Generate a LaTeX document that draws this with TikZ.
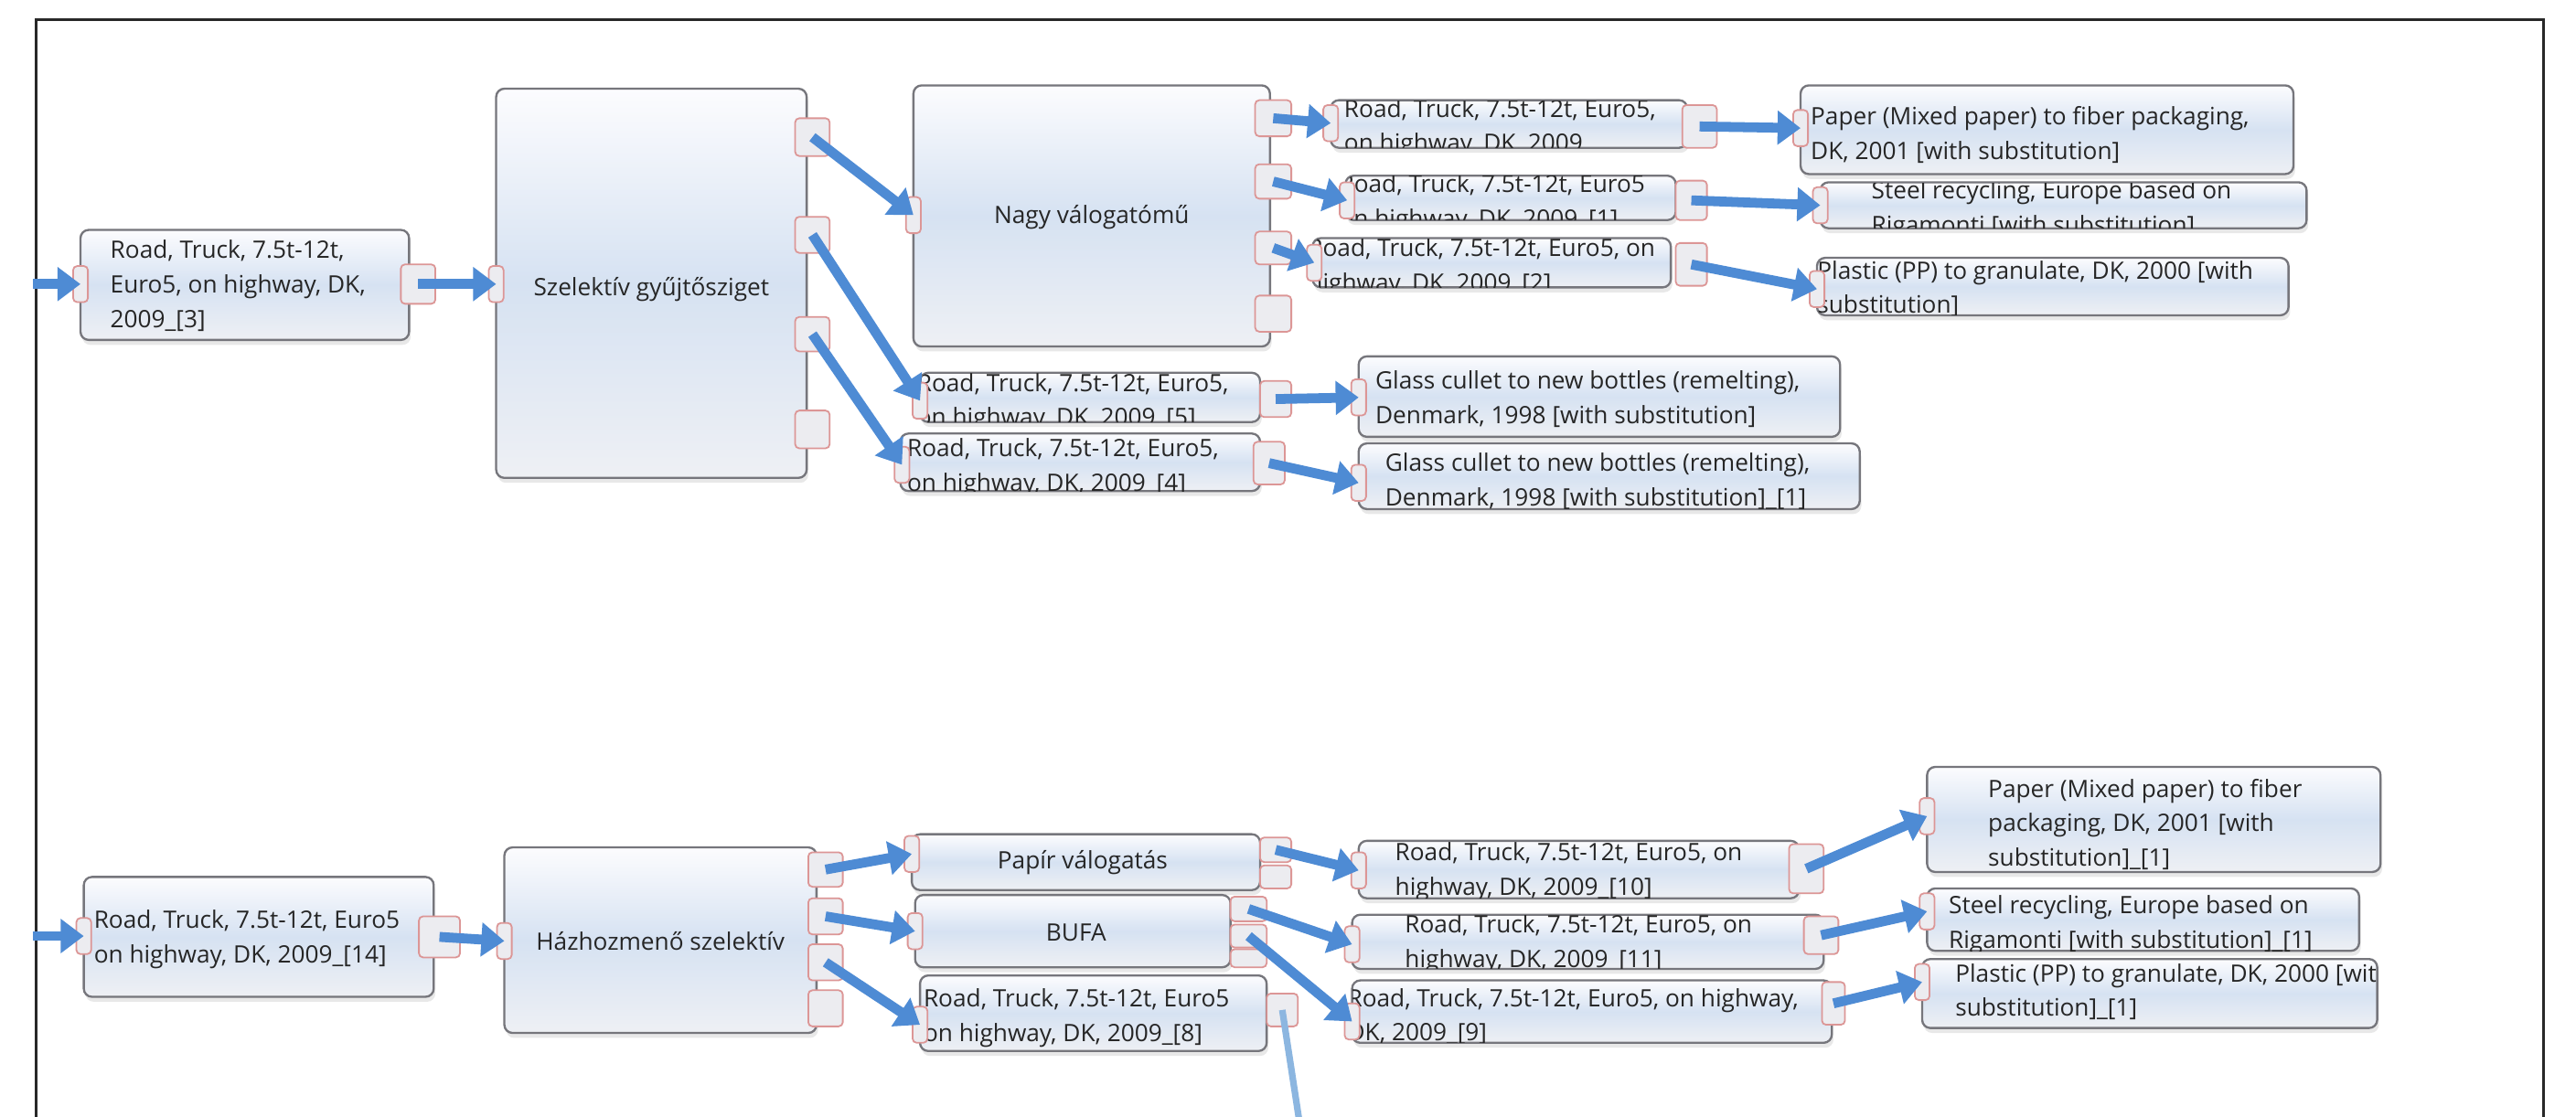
\documentclass[tikz,border=0pt]{standalone}
\usepackage{fontspec}
\setmainfont{Open Sans}
\usetikzlibrary{arrows.meta,shadows}
\definecolor{arrowblue}{RGB}{78,139,212}
\definecolor{arrowlight}{RGB}{140,182,224}
\definecolor{boxborder}{RGB}{118,118,124}
\definecolor{boxtop}{RGB}{252,252,254}
\definecolor{boxmid}{RGB}{214,226,242}
\definecolor{boxbot}{RGB}{238,240,244}
\definecolor{portborder}{RGB}{220,150,150}
\definecolor{portfill}{RGB}{236,236,240}
\definecolor{txtcol}{RGB}{38,38,38}
\definecolor{framecol}{RGB}{40,40,40}
\tikzset{
  boxst/.style={draw=boxborder, line width=1.3pt, rounded corners=5pt,
    top color=boxtop, bottom color=boxbot, middle color=boxmid,
    drop shadow={shadow xshift=1pt, shadow yshift=-3pt, opacity=0.18},
    inner sep=0pt, outer sep=0pt},
  portst/.style={draw=portborder, fill=portfill, line width=1pt,
    rounded corners=2.5pt, inner sep=0pt, outer sep=0pt},
  txt/.style={font=\fontsize{14.6}{21}\selectfont, text=txtcol, align=left, inner sep=0pt},
  arr/.style={draw=arrowblue, line width=6pt, -{Triangle[width=20pt,length=14pt]}},
  arrlight/.style={draw=arrowlight, line width=4pt},
  framest/.style={draw=framecol, line width=1.6pt}
}
% box with left-aligned text clipped to the box
\newcommand\tbox[8]{%
  \node[boxst, minimum width={(#4-#2)*1pt}, minimum height={(#5-#3)*1pt}] (#1) at ({(#2+#4)/2},{(#3+#5)/2}) {};
  \begin{scope}
    \clip[rounded corners=5pt] (#1.south west) rectangle (#1.north east);
    \node[txt, anchor=west] (#1t) at (#6,#7) {#8};
  \end{scope}}
% box with centred text
\newcommand\cbox[8]{%
  \node[boxst, minimum width={(#4-#2)*1pt}, minimum height={(#5-#3)*1pt}] (#1) at ({(#2+#4)/2},{(#3+#5)/2}) {};
  \node[txt, anchor=center] (#1t) at (#6,#7) {#8};}
% port
\newcommand\prt[5]{%
  \node[portst, minimum width={(#4-#2)*1pt}, minimum height={(#5-#3)*1pt}] (#1) at ({(#2+#4)/2},{(#3+#5)/2}) {};}
% input port centred on a point
\newcommand\iprt[3]{%
  \node[portst, minimum width=9pt, minimum height=22pt] (#1) at (#2,#3) {};}

\begin{document}
\begin{tikzpicture}[x=1pt,y=-1pt]
\useasboundingbox[fill=white] (0,0) rectangle (1568,680);
\draw[framest] (22,700) -- (22,12) -- (1548,12) -- (1548,700);

% ---------------- top section ----------------
\tbox{A}{49}{140}{249}{207}{67}{174}{Road, Truck, 7.5t-12t,\\Euro5, on highway, DK,\\2009\_[3]}
\cbox{B}{302}{54}{491}{291}{396.5}{176}{Szelektív gyűjtősziget}
\cbox{C}{556}{52}{773}{211}{664.5}{132.5}{Nagy válogatómű}
\tbox{D1}{810}{61}{1027}{90}{818}{78}{Road, Truck, 7.5t-12t, Euro5,\\on highway, DK, 2009}
\tbox{D2}{819}{107}{1020}{134}{815}{124}{Road, Truck, 7.5t-12t, Euro5\\on highway, DK, 2009\_[1]}
\tbox{D3}{799}{145}{1017}{175}{796}{163}{Road, Truck, 7.5t-12t, Euro5, on\\highway, DK, 2009\_[2]}
\tbox{E1}{1096}{52}{1396}{106}{1102}{82}{Paper (Mixed paper) to fiber packaging,\\DK, 2001 [with substitution]}
\tbox{E2}{1108}{111}{1404}{139}{1139}{128}{Steel recycling, Europe based on\\Rigamonti [with substitution]}
\tbox{E3}{1106}{157}{1393}{192}{1106}{176}{Plastic (PP) to granulate, DK, 2000 [with\\substitution]}
\tbox{D5}{560}{227}{767}{257}{558}{245}{Road, Truck, 7.5t-12t, Euro5,\\on highway, DK, 2009\_[5]}
\tbox{D4}{548}{264}{767}{299}{552}{285}{Road, Truck, 7.5t-12t, Euro5,\\on highway, DK, 2009\_[4]}
\tbox{E5}{827}{217}{1120}{266}{837}{243}{Glass cullet to new bottles (remelting),\\Denmark, 1998 [with substitution]}
\tbox{E4}{827}{270}{1132}{310}{843}{293}{Glass cullet to new bottles (remelting),\\Denmark, 1998 [with substitution]\_[1]}

% ---------------- bottom section ----------------
\tbox{F}{51}{534}{264}{607}{57}{572}{Road, Truck, 7.5t-12t, Euro5\\on highway, DK, 2009\_[14]}
\cbox{G}{307}{516}{497}{629}{402}{573}{Házhozmenő szelektív}
\cbox{H}{555}{508}{767}{542}{659}{525}{Papír válogatás}
\cbox{I}{557}{545}{749}{589}{655}{568}{BUFA}
\tbox{D8}{560}{594}{771}{640}{562}{620}{Road, Truck, 7.5t-12t, Euro5\\on highway, DK, 2009\_[8]}
\tbox{J1}{827}{512}{1095}{547}{849}{531}{Road, Truck, 7.5t-12t, Euro5, on\\highway, DK, 2009\_[10]}
\tbox{J2}{823}{557}{1110}{590}{855}{575}{Road, Truck, 7.5t-12t, Euro5, on\\highway, DK, 2009\_[11]}
\tbox{J3}{823}{597}{1115}{635}{820}{619}{Road, Truck, 7.5t-12t, Euro5, on highway,\\DK, 2009\_[9]}
\tbox{K1}{1173}{467}{1449}{531}{1210}{502}{Paper (Mixed paper) to fiber\\packaging, DK, 2001 [with\\substitution]\_[1]}
\tbox{K2}{1173}{541}{1436}{579}{1186}{563}{Steel recycling, Europe based on\\Rigamonti [with substitution]\_[1]}
\tbox{K3}{1170}{584}{1447}{626}{1190}{604}{Plastic (PP) to granulate, DK, 2000 [with\\substitution]\_[1]}

% ---------------- output ports ----------------
\prt{Ao}{244}{161}{265}{185}
\prt{Bo1}{484}{72}{505}{95}
\prt{Bo2}{484}{132}{505}{154}
\prt{Bo3}{484}{193}{505}{214}
\prt{Bo4}{484}{250}{505}{273}
\prt{Co1}{764}{61}{786}{83}
\prt{Co2}{764}{100}{786}{121}
\prt{Co3}{764}{141}{786}{161}
\prt{Co4}{764}{180}{786}{202}
\prt{D1o}{1024}{64}{1045}{90}
\prt{D2o}{1020}{110}{1039}{134}
\prt{D3o}{1020}{148}{1039}{174}
\prt{D5o}{767}{232}{786}{254}
\prt{D4o}{763}{269}{782}{295}
\prt{Fo}{255}{558}{280}{583}
\prt{Go1}{492}{519}{513}{540}
\prt{Go2}{492}{547}{513}{569}
\prt{Go3}{492}{575}{513}{597}
\prt{Go4}{492}{603}{513}{625}
\prt{Ho1}{767}{510}{786}{525}
\prt{Ho2}{767}{527}{786}{541}
\prt{Io1}{749}{546}{771}{561}
\prt{Io2}{749}{563}{771}{577}
\prt{Io3}{749}{578}{771}{589}
\prt{D8o}{771}{605}{790}{625}
\prt{J1o}{1089}{514}{1110}{544}
\prt{J2o}{1098}{558}{1119}{581}
\prt{J3o}{1109}{598}{1123}{624}

% ---------------- input ports ----------------
\iprt{Ai}{49}{173}
\iprt{Bi}{302}{173}
\iprt{Ci}{556}{131}
\iprt{D1i}{810}{75}
\iprt{D2i}{820}{122}
\iprt{D3i}{800}{160}
\iprt{E1i}{1096}{78}
\iprt{E2i}{1108}{125}
\iprt{E3i}{1106}{176}
\iprt{D5i}{560}{244}
\iprt{D4i}{549}{283}
\iprt{E5i}{827}{242}
\iprt{E4i}{827}{294}
\iprt{Fi}{51}{570}
\iprt{Gi}{307}{573}
\iprt{Hi}{555}{520}
\iprt{Ii}{557}{567}
\iprt{D8i}{560}{624}
\iprt{J1i}{827}{530}
\iprt{J2i}{823}{575}
\iprt{J3i}{823}{622}
\iprt{K1i}{1173}{497}
\iprt{K2i}{1173}{555}
\iprt{K3i}{1170}{598}

\coordinate (s1) at (20,173);
\coordinate (s2) at (20,570);
\coordinate (e8) at (792,690);

% ---------------- connectors ----------------
\draw[arr] (s1) -- (Ai.center);
\draw[arr] (Ao.center) -- (Bi.center);
\draw[arr] (Bo1.center) -- (Ci.center);
\draw[arr] (Bo2.center) -- (D5i.center);
\draw[arr] (Bo3.center) -- (D4i.center);
\draw[arr] (Co1.center) -- (D1i.center);
\draw[arr] (Co2.center) -- (D2i.center);
\draw[arr] (Co3.center) -- (D3i.center);
\draw[arr] (D1o.center) -- (E1i.center);
\draw[arr] (D2o.center) -- (E2i.center);
\draw[arr] (D3o.center) -- (E3i.center);
\draw[arr] (D5o.center) -- (E5i.center);
\draw[arr] (D4o.center) -- (E4i.center);

\draw[arr] (s2) -- (Fi.center);
\draw[arr] (Fo.center) -- (Gi.center);
\draw[arr] (Go1.center) -- (Hi.center);
\draw[arr] (Go2.center) -- (Ii.center);
\draw[arr] (Go3.center) -- (D8i.center);
\draw[arr] (Ho1.center) -- (J1i.center);
\draw[arr] (Io1.center) -- (J2i.center);
\draw[arr] (Io2.center) -- (J3i.center);
\draw[arr] (J1o.center) -- (K1i.center);
\draw[arr] (J2o.center) -- (K2i.center);
\draw[arr] (J3o.center) -- (K3i.center);
\draw[arrlight] (D8o.center) -- (e8);
\end{tikzpicture}
\end{document}
